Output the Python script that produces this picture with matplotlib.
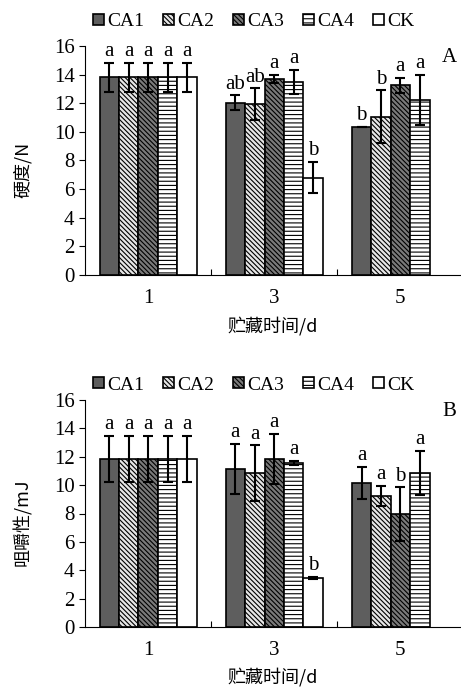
import numpy as np
import matplotlib
matplotlib.use('Agg')
import matplotlib.pyplot as plt

plt.rcParams['font.family'] = ['Liberation Serif', 'Noto Sans CJK SC']
plt.rcParams['hatch.linewidth'] = 0.8

# data
days = ['1', '3', '5']
series = ['CA1', 'CA2', 'CA3', 'CA4', 'CK']

hard = {
    'CA1': [13.8, 12.05, 10.35],
    'CA2': [13.8, 11.95, 11.05],
    'CA3': [13.8, 13.7, 13.25],
    'CA4': [13.8, 13.5, 12.25],
    'CK':  [13.8, 6.8, np.nan],
}
hard_err = {
    'CA1': [1.0, 0.5, 0.0],
    'CA2': [1.0, 1.1, 1.85],
    'CA3': [1.0, 0.3, 0.5],
    'CA4': [1.0, 0.85, 1.75],
    'CK':  [1.0, 1.1, np.nan],
}
hard_lab = {
    'CA1': ['a', 'ab', 'b'],
    'CA2': ['a', 'ab', 'b'],
    'CA3': ['a', 'a', 'a'],
    'CA4': ['a', 'a', 'a'],
    'CK':  ['a', 'b', ''],
}

chew = {
    'CA1': [11.85, 11.15, 10.15],
    'CA2': [11.85, 10.85, 9.25],
    'CA3': [11.85, 11.85, 7.95],
    'CA4': [11.85, 11.55, 10.85],
    'CK':  [11.85, 3.45, np.nan],
}
chew_err = {
    'CA1': [1.6, 1.75, 1.15],
    'CA2': [1.6, 1.95, 0.7],
    'CA3': [1.6, 1.75, 1.9],
    'CA4': [1.6, 0.15, 1.55],
    'CK':  [1.6, 0.08, np.nan],
}
chew_lab = {
    'CA1': ['a', 'a', 'a'],
    'CA2': ['a', 'a', 'a'],
    'CA3': ['a', 'a', 'b'],
    'CA4': ['a', 'a', 'a'],
    'CK':  ['a', 'b', ''],
}

face = {'CA1': '#5e5e5e', 'CA2': '#e6e6e6', 'CA3': '#7a7a7a', 'CA4': 'white', 'CK': 'white'}
hatch = {'CA1': None, 'CA2': '\\' * 7, 'CA3': '\\' * 7, 'CA4': '----', 'CK': None}

W, H = 461, 688
fig = plt.figure(figsize=(W / 100, H / 100), dpi=100)


def panel(rect, vals, errs, labs, ylabel, tag, legend_y):
    ax = fig.add_axes(rect)
    x = np.arange(len(days))
    bw = 0.154
    handles = []
    for i, s in enumerate(series):
        pos = x + (i - 2) * bw
        v = np.array(vals[s], dtype=float)
        e = np.array(errs[s], dtype=float)
        ok = ~np.isnan(v)
        b = ax.bar(pos[ok], v[ok], bw, color=face[s], edgecolor='black',
                   linewidth=1.2, hatch=hatch[s], label=s)
        ax.errorbar(pos[ok], v[ok], yerr=e[ok], fmt='none', ecolor='black',
                    elinewidth=1.5, capsize=3.5, capthick=1.5)
        handles.append(b)
        for j in range(len(days)):
            if ok[j]:
                ax.text(pos[j], v[j] + e[j] + 0.12, labs[s][j], ha='center',
                        va='bottom', fontsize=15)
    ax.set_ylim(0, 16)
    ax.set_yticks(range(0, 17, 2))
    ax.set_xlim(-0.5, 2.48)
    ax.set_xticks([0.5, 1.5])
    ax.set_xticklabels([])
    ax.tick_params(axis='x', direction='in', length=4)
    ax.tick_params(axis='y', direction='out', length=4, labelsize=15)
    for i, d in enumerate(days):
        ax.text(i, -1.0, d, ha='center', va='top', fontsize=15)
    ax.spines['top'].set_visible(False)
    ax.spines['right'].set_visible(False)
    ax.text(0.5, -0.185, '贮藏时间/d', transform=ax.transAxes, ha='center',
            va='top', fontsize=13, family=['Noto Sans CJK SC'])
    ax.text(-0.165, 0.46, ylabel, transform=ax.transAxes, rotation=90,
            ha='center', va='center', fontsize=13,
            family=['Noto Sans CJK SC', 'Liberation Serif'])
    ax.text(0.97, 0.99, tag, transform=ax.transAxes, ha='center', va='top',
            fontsize=15)
    fig.legend(handles, series, loc='center', bbox_to_anchor=(0.55, legend_y),
               ncol=5, frameon=False, fontsize=14, handlelength=0.55,
               handleheight=0.55, handletextpad=0.15, columnspacing=1.0,
               borderaxespad=0)
    return ax


panel([85 / W, 1 - 275 / H, 376 / W, 229 / H], hard, hard_err, hard_lab,
      '硬度/N', 'A', 1 - 22 / H)
panel([85 / W, 1 - 627 / H, 376 / W, 227 / H], chew, chew_err, chew_lab,
      '咀嚼性/mJ', 'B', 1 - 385 / H)

fig.savefig('out.png', dpi=100)
